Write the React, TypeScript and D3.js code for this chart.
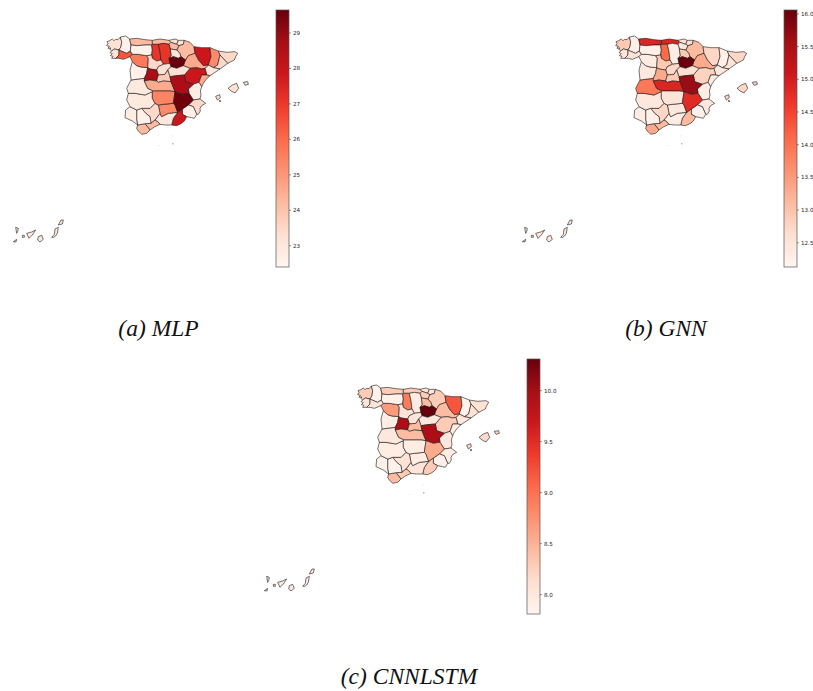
import React from "react";
import * as d3 from "d3";

const REDS = ["#fff5f0","#fee0d2","#fcbba1","#fc9272","#fb6a4a","#ef3b2c","#cb181d","#a50f15","#67000d"];

const provinceNames = ["A Coruna","Pontevedra","Lugo","Ourense","Asturias","Cantabria","Bizkaia","Gipuzkoa","Alava","La Rioja","Navarra","Huesca","Lleida","Girona","Barcelona","Tarragona","Zaragoza","Teruel","Castellon","Valencia","Alicante","Murcia","Almeria","Granada","Jaen","Cordoba","Malaga","Cadiz","Sevilla","Huelva","Badajoz","Caceres","Salamanca","Zamora","Leon","Palencia","Burgos","Valladolid","Segovia","Avila","Soria","Guadalajara","Madrid","Toledo","Ciudad Real","Cuenca","Albacete","Baleares","Canarias"];

const provinceShapes: number[][][][] = [
  [[[36,50],[44,47],[52,42],[57,47],[62,43],[69,44],[76,36],[80,50],[78,65],[72,75],[58,72],[50,78],[44,72],[48,69],[39,70],[43,64],[35,62],[39,56]]],
  [[[50,78],[58,72],[72,75],[72,90],[62,100],[50,100],[54,94],[46,92],[52,86],[45,83]]],
  [[[76,36],[92,33],[104,42],[108,60],[106,78],[95,85],[78,78],[72,75],[78,65],[80,50]]],
  [[[72,75],[78,78],[95,85],[106,78],[112,88],[105,95],[85,103],[72,100],[62,100],[72,90]]],
  [[[104,42],[125,40],[150,44],[172,46],[172,58],[170,60],[150,60],[125,62],[108,60]]],
  [[[172,46],[195,42],[222,46],[228,52],[222,58],[205,55],[190,58],[172,58]]],
  [[[222,46],[240,42],[250,46],[245,58],[228,52]]],
  [[[250,46],[268,46],[265,58],[252,62],[245,58]]],
  [[[222,58],[228,52],[245,58],[252,62],[246,75],[226,72]]],
  [[[226,72],[246,75],[255,85],[258,95],[250,100],[235,95],[222,100],[228,92]]],
  [[[265,58],[268,46],[285,52],[297,65],[300,85],[280,92],[272,105],[258,95],[255,85],[246,75],[252,62]]],
  [[[297,65],[320,68],[345,68],[348,95],[340,120],[325,122],[310,105],[300,85]]],
  [[[345,68],[370,78],[375,90],[368,120],[355,128],[340,120],[348,95]]],
  [[[370,78],[395,82],[420,80],[428,85],[422,95],[418,105],[398,115],[375,90]]],
  [[[375,90],[398,115],[375,132],[355,128],[368,120]]],
  [[[355,128],[375,132],[345,152],[335,150],[330,130],[340,120]]],
  [[[272,105],[280,92],[300,85],[310,105],[325,122],[340,120],[330,130],[320,132],[305,128],[285,130],[265,122],[270,108]]],
  [[[285,130],[305,128],[320,132],[330,130],[335,150],[320,150],[312,172],[295,178],[272,170],[268,150]]],
  [[[312,172],[320,150],[335,150],[345,152],[332,165],[325,175],[320,185]]],
  [[[295,178],[312,172],[320,185],[316,198],[318,210],[315,222],[295,225],[282,205],[280,192]]],
  [[[295,225],[315,222],[332,235],[320,242],[315,250],[316,258],[310,268],[305,268],[295,245],[280,240]]],
  [[[262,252],[280,240],[295,245],[305,268],[298,280],[290,278],[275,275],[262,268]]],
  [[[248,262],[262,252],[262,268],[275,275],[268,288],[258,296],[245,302],[230,300],[235,280]]],
  [[[180,285],[195,265],[200,275],[220,265],[248,262],[235,280],[230,300],[212,300],[195,298],[188,290]]],
  [[[190,240],[205,238],[235,235],[240,240],[248,262],[220,265],[200,275],[195,265]]],
  [[[140,250],[165,250],[180,235],[190,240],[195,265],[180,285],[168,295],[165,275],[152,265]]],
  [[[150,296],[168,295],[180,285],[188,290],[195,298],[178,306],[165,315]]],
  [[[128,300],[150,296],[165,315],[155,325],[140,328],[130,318],[125,310]]],
  [[[125,255],[140,250],[152,265],[165,275],[168,295],[150,296],[128,300],[125,285]]],
  [[[105,245],[125,255],[125,285],[128,300],[112,288],[90,278],[92,255]]],
  [[[100,205],[120,205],[150,210],[172,200],[172,220],[180,235],[165,250],[140,250],[125,255],[105,245],[95,225]]],
  [[[108,165],[130,162],[148,160],[148,168],[158,190],[175,198],[172,200],[150,210],[120,205],[100,205],[95,190]]],
  [[[112,110],[125,122],[138,126],[158,128],[155,145],[148,160],[130,162],[108,165],[105,135]]],
  [[[112,88],[130,88],[155,92],[160,100],[158,128],[138,126],[125,122],[112,110],[105,95]]],
  [[[108,60],[125,62],[150,60],[170,60],[172,75],[170,90],[155,92],[130,88],[112,88],[106,78]]],
  [[[172,58],[190,58],[195,80],[198,105],[185,108],[172,100],[170,90],[172,75],[170,60]]],
  [[[190,58],[205,55],[222,58],[226,72],[228,92],[222,100],[225,115],[205,118],[198,105],[195,80]]],
  [[[155,92],[170,90],[172,100],[185,108],[198,105],[205,118],[190,125],[185,135],[165,132],[158,128],[160,100]]],
  [[[190,125],[205,118],[225,115],[228,125],[218,135],[210,148],[190,150],[185,135]]],
  [[[165,132],[185,135],[190,150],[185,168],[165,165],[148,168],[148,160],[155,145],[158,128]]],
  [[[222,100],[235,95],[250,100],[258,95],[272,105],[270,108],[265,122],[245,130],[228,125],[225,115]]],
  [[[228,125],[245,130],[265,122],[285,130],[268,150],[245,152],[225,155],[218,135]]],
  [[[190,150],[210,148],[218,135],[225,155],[228,170],[205,168],[190,172],[185,168]]],
  [[[148,168],[165,165],[185,168],[190,172],[205,168],[228,170],[240,200],[225,198],[200,198],[175,198],[158,190]]],
  [[[175,198],[200,198],[225,198],[240,200],[235,235],[205,238],[190,240],[180,235],[172,220],[172,200]]],
  [[[225,155],[245,152],[268,150],[272,170],[295,178],[280,192],[282,205],[262,208],[240,200],[228,170]]],
  [[[240,200],[262,208],[282,205],[295,225],[280,240],[262,252],[248,262],[240,240],[235,235]]],
  [[[399,190],[412,180],[425,175],[431,190],[420,204],[408,198]],[[445,172],[458,170],[460,178],[450,181]],[[362,214],[374,209],[376,218],[367,225]],[[372,228],[376,226],[377,230]]],
  [[[-238,607],[-230,610],[-232,620],[-235,625]],[[-245,650],[-235,643],[-237,651]],[[-218,631],[-212,631],[-212,637],[-218,637]],[[-205,625],[-190,621],[-178,615],[-188,630],[-198,640]],[[-170,635],[-160,631],[-155,643],[-165,651],[-172,645]],[[-130,637],[-122,628],[-120,612],[-110,607],[-113,625],[-118,633],[-124,637]],[[-110,600],[-102,585],[-95,585],[-98,597]]],
];

const isletPoints: number[][] = [[232,355]];
const faintIsletPoints: number[][] = [[190,360],[230,331]];

const mlpValues = [23.27,23.13,22.62,26.39,24.21,24.21,23.13,23.13,24.21,23.13,24.21,27.84,25.3,23.49,23.49,22.98,24.58,27.84,24.58,22.76,23.49,22.62,27.84,22.98,25.3,23.49,24.21,24.21,22.62,22.76,22.91,22.91,22.62,25.66,22.62,27.11,27.11,23.49,23.27,28.56,29.65,23.27,23.85,24.58,25.45,28.56,29.5,23.27,23.0];
const gnnValues = [12.93,12.54,12.27,12.54,14.88,14.88,12.54,12.62,12.46,12.93,13.13,12.74,12.23,12.74,12.54,12.46,13.32,12.81,12.35,12.35,12.46,12.23,13.13,12.35,12.46,12.74,13.13,13.32,12.23,12.31,12.46,13.91,12.46,12.35,12.27,14.1,12.35,12.93,12.74,13.32,16.05,12.62,12.93,14.88,12.54,15.66,14.8,12.74,12.5];
const cnnValues = [8.3,8.05,7.88,8.05,8.3,8.3,8.05,8.0,8.3,8.43,8.3,9.19,7.85,8.1,8.1,8.0,8.43,8.3,7.93,8.0,7.93,7.88,8.3,8.05,7.93,8.1,8.3,8.43,7.85,7.88,7.93,8.0,7.93,8.68,7.88,8.93,7.98,8.05,8.05,9.94,10.32,8.0,8.43,8.43,7.93,9.94,8.56,8.18,8.0];

const mlpTicks = [23,24,25,26,27,28,29];
const gnnTicks = [12.5,13,13.5,14,14.5,15,15.5,16];
const cnnTicks = [8,8.5,9,9.5,10];

const fmtInt = (v: number) => String(v);
const fmt1 = (v: number) => v.toFixed(1);

const makeColor = (lo: number, hi: number) =>
  d3.scaleLinear<string>()
    .domain(REDS.map((_, i) => lo + (hi - lo) * i / (REDS.length - 1)))
    .range(REDS)
    .clamp(true);

function Panel({ id, ox, oy, barX, barTop, barBottom, domain, values, ticks, fmt, caption, capX, capY }: any) {
  const x = d3.scaleLinear().domain([0, 495]).range([ox, ox + 165]);
  const y = d3.scaleLinear().domain([0, 375]).range([oy, oy + 125]);
  const color = makeColor(domain[0], domain[1]);
  const bar = d3.scaleLinear().domain(domain).range([barBottom, barTop]);
  const line = d3.line<number[]>().x(p => x(p[0])).y(p => y(p[1])).curve(d3.curveLinearClosed);
  const barW = 13;
  return (
    <g>
      <defs>
        <linearGradient id={id} x1="0" y1="1" x2="0" y2="0">
          {REDS.map((c, i) => <stop key={i} offset={i / (REDS.length - 1)} stopColor={c} />)}
        </linearGradient>
      </defs>
      <g filter="url(#soft)">
        {provinceShapes.map((parts, i) =>
          parts.map((ring, j) => (
            <path key={provinceNames[i] + j} d={line(ring) ?? ""} fill={color(values[i])}
              stroke="#1a1a1a" strokeWidth={0.6} strokeLinejoin="round" />
          ))
        )}
        {isletPoints.map((p, i) => <rect key={i} x={x(p[0])} y={y(p[1])} width={1} height={1} fill="#666" />)}
        {faintIsletPoints.map((p, i) => <rect key={i} x={x(p[0])} y={y(p[1])} width={1} height={1} fill="#ddd" />)}
      </g>
      <rect x={barX} y={barTop} width={barW} height={barBottom - barTop} fill={`url(#${id})`} stroke="#555" strokeWidth={0.7} />
      {ticks.map((t: number) => (
        <g key={t}>
          <line x1={barX + barW} x2={barX + barW + 2} y1={bar(t)} y2={bar(t)} stroke="#333" strokeWidth={0.5} />
          <text x={barX + barW + 4} y={bar(t) + 2} fontSize={5.6} fontFamily="DejaVu Sans" fill="#222">{fmt(t)}</text>
        </g>
      ))}
      <text x={capX} y={capY} textAnchor="middle" fontSize={23.5} fontStyle="italic" fontFamily="Liberation Serif" fill="#111">{caption}</text>
    </g>
  );
}

export default function App() {
  return (
    <svg width={813} height={691} style={{ position: "absolute", left: 0, top: 0, background: "#fff" }}>
      <defs>
        <filter id="soft" x="-5%" y="-5%" width="110%" height="110%"><feGaussianBlur stdDeviation="0.3" /></filter>
      </defs>
      <Panel id="barA" ox={95} oy={25} barX={276} barTop={10} barBottom={267} domain={[22.4, 29.65]} values={mlpValues} ticks={mlpTicks} fmt={fmtInt} caption="(a) MLP" capX={158.5} capY={336} />
      <Panel id="barB" ox={604} oy={25} barX={784} barTop={10} barBottom={267} domain={[12.13, 16.06]} values={gnnValues} ticks={gnnTicks} fmt={fmt1} caption="(b) GNN" capX={666} capY={336} />
      <Panel id="barC" ox={346} oy={374} barX={527} barTop={359} barBottom={614} domain={[7.81, 10.31]} values={cnnValues} ticks={cnnTicks} fmt={fmt1} caption="(c) CNNLSTM" capX={409} capY={684} />
    </svg>
  );
}
